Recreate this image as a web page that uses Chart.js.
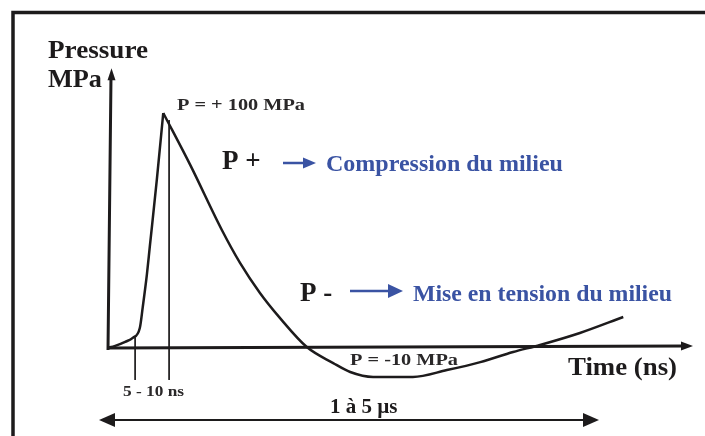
<!DOCTYPE html>
<html>
<head>
<meta charset="utf-8">
<script src="https://cdn.jsdelivr.net/npm/chart.js@4.4.0/dist/chart.umd.min.js"></script>
<style>
  html, body { margin: 0; padding: 0; background: #fff; }
  canvas { display: block; }
</style>
</head>
<body>
<canvas id="pulse" width="705" height="436"></canvas>
<script>
// time in arbitrary units (0 = start of the pulse), pressure in MPa
const riseTime = [0, 1.4, 3.1, 4.4, 5.6, 6.1, 6.8, 7.3, 8.5, 9.6];
const risePressure = [0, 0.9, 2.6, 4.3, 8.5, 17.4, 31.1, 43.0, 71.5, 100];
const fallTime = [9.6, 14.2, 19.6, 22.7, 26.1, 29.5, 34.1, 38.6, 41.5, 45.4, 50.0, 52.2, 58.0, 63.7, 69.3, 73.9, 80.7, 88.1];
const fallPressure = [100, 77.9, 50.2, 36.2, 23.4, 12.8, 0.4, -6.4, -10.2, -12.3, -12.3, -12.3, -9.4, -6.0, -1.7, 1.3, 6.4, 13.2];
// thin markers under the rising edge (5 ns / 10 ns)
const markerTime = [4.8, 10.6];
const markerTop = [4.5, 97];
const markerBottom = -13.6;

const ink = '#1d1b1c';
const blue = '#3a53a3';

function toPoints(xs, ys) {
  return xs.map((t, i) => ({ x: t, y: ys[i] }));
}

// filled triangle, tip at (x, y), pointing along (dx, dy)
function arrowHead(ctx, x, y, dx, dy, len, half) {
  ctx.beginPath();
  ctx.moveTo(x, y);
  ctx.lineTo(x - dx * len - dy * half, y - dy * len + dx * half);
  ctx.lineTo(x - dx * len + dy * half, y - dy * len - dx * half);
  ctx.closePath();
  ctx.fill();
}

// text squeezed/stretched horizontally to a given width (scanned labels are wide)
function fillWide(ctx, text, x, y, width) {
  const w = ctx.measureText(text).width;
  ctx.save();
  ctx.translate(x, y);
  ctx.scale(width / w, 1);
  ctx.fillText(text, 0, 0);
  ctx.restore();
}

const sketch = {
  id: 'sketch',
  beforeDatasetsDraw(chart) {
    const { ctx, scales: { x, y } } = chart;
    const x0 = x.getPixelForValue(0);
    const y0 = y.getPixelForValue(0);
    ctx.save();
    ctx.strokeStyle = ink;
    ctx.fillStyle = ink;

    // outer frame (top + left only)
    ctx.lineWidth = 3.5;
    ctx.beginPath();
    ctx.moveTo(13, 436);
    ctx.lineTo(13, 12.5);
    ctx.lineTo(705, 12.5);
    ctx.stroke();

    // axes
    const yTip = y.getPixelForValue(119);
    ctx.lineWidth = 3;
    ctx.beginPath();
    ctx.moveTo(x0 + 1, y0 + 2);
    ctx.lineTo(x0 + 4, yTip + 8);
    ctx.moveTo(x0, y0);
    ctx.lineTo(x.right - 8, y0 - 2);
    ctx.stroke();
    arrowHead(ctx, x0 + 4.5, yTip, 0, -1, 12, 4);
    arrowHead(ctx, x.right, y0 - 2, 1, 0, 12, 4.5);

    // duration arrow under the plot
    ctx.lineWidth = 2;
    ctx.beginPath();
    ctx.moveTo(110, 420);
    ctx.lineTo(588, 420);
    ctx.stroke();
    arrowHead(ctx, 99, 420, -1, 0, 16, 7);
    arrowHead(ctx, 599, 420, 1, 0, 16, 7);

    // blue arrows
    ctx.strokeStyle = blue;
    ctx.fillStyle = blue;
    ctx.lineWidth = 2.5;
    ctx.beginPath();
    ctx.moveTo(283, 163);
    ctx.lineTo(304, 163);
    ctx.moveTo(350, 291);
    ctx.lineTo(390, 291);
    ctx.stroke();
    arrowHead(ctx, 316, 163, 1, 0, 13, 5.5);
    arrowHead(ctx, 403, 291, 1, 0, 15, 7);
    ctx.restore();
  },
  afterDraw(chart) {
    const { ctx } = chart;
    const serif = '"Liberation Serif", "Times New Roman", serif';
    ctx.save();
    ctx.textBaseline = 'alphabetic';
    ctx.textAlign = 'left';
    ctx.fillStyle = ink;

    ctx.font = 'bold 25px ' + serif;
    fillWide(ctx, 'Pressure', 48, 58, 100);
    fillWide(ctx, 'MPa', 48, 87, 54);

    ctx.font = 'bold 26px ' + serif;
    fillWide(ctx, 'Time (ns)', 568, 375, 109);

    ctx.font = 'bold 17px ' + serif;
    ctx.fillStyle = '#2a2829';
    fillWide(ctx, 'P = + 100 MPa', 177, 110, 128);
    fillWide(ctx, 'P = -10 MPa', 350, 365, 108);
    ctx.font = 'bold 15px ' + serif;
    fillWide(ctx, '5 - 10 ns', 123, 396, 61);

    ctx.fillStyle = ink;
    ctx.font = 'bold 21px ' + serif;
    ctx.fillText('1 à 5 µs', 330, 413);

    ctx.font = 'bold 27px ' + serif;
    ctx.fillText('P +', 222, 169);
    ctx.fillText('P -', 300, 301);

    ctx.fillStyle = blue;
    ctx.font = 'bold 24px ' + serif;
    ctx.fillText('Compression du milieu', 326, 171);
    fillWide(ctx, 'Mise en tension du milieu', 413, 301, 259);
    ctx.restore();
  }
};

const curveStyle = {
  borderColor: ink,
  borderWidth: 2.5,
  pointRadius: 0,
  fill: false,
  cubicInterpolationMode: 'monotone'
};

const datasets = [
  { label: 'rise', data: toPoints(riseTime, risePressure), ...curveStyle },
  { label: 'fall', data: toPoints(fallTime, fallPressure), ...curveStyle }
];
markerTime.forEach((t, i) => {
  datasets.push({
    label: 'marker ' + (i + 1),
    data: [{ x: t, y: markerTop[i] }, { x: t, y: markerBottom }],
    borderColor: ink,
    borderWidth: 1,
    pointRadius: 0,
    fill: false
  });
});

new Chart(document.getElementById('pulse'), {
  type: 'line',
  data: { datasets: datasets },
  options: {
    responsive: false,
    animation: false,
    devicePixelRatio: 1,
    layout: { padding: { left: 107, right: 12, top: 66, bottom: 41 } },
    plugins: {
      legend: { display: false },
      tooltip: { enabled: false }
    },
    scales: {
      x: { type: 'linear', min: 0, max: 100, display: false },
      y: { type: 'linear', min: -20, max: 120, display: false }
    },
    elements: { line: { clip: false } }
  },
  plugins: [sketch]
});
</script>
</body>
</html>
